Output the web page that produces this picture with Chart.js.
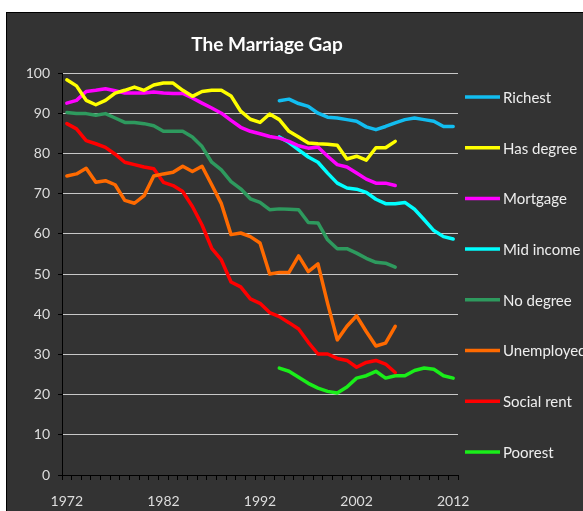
<!DOCTYPE html>
<html><head><meta charset="utf-8">
<script src="https://cdn.jsdelivr.net/npm/chart.js@4.4.0/dist/chart.umd.min.js"></script>
<style>html,body{margin:0;padding:0;background:#fff;}canvas{display:block;}</style>
</head><body>
<canvas id="c" width="583" height="511"></canvas>
<script>
const chartTitle = 'The Marriage Gap';
const years = [1972,1973,1974,1975,1976,1977,1978,1979,1980,1981,1982,1983,1984,1985,1986,1987,1988,1989,1990,1991,1992,1993,1994,1995,1996,1997,1998,1999,2000,2001,2002,2003,2004,2005,2006,2007,2008,2009,2010,2011,2012];
const labeledYears = [1972,1982,1992,2002,2012];
const yTicks = [0,10,20,30,40,50,60,70,80,90,100];
const seriesNames = ['Richest','Has degree','Mortgage','Mid income','No degree','Unemployed','Social rent','Poorest'];
const seriesColors = ['#12bdf0','#ffff00','#ff00ff','#00ffff','#2e9a5e','#ff6a00','#ff0000','#1aee1a'];
// 1994-2012
const richest   = [93.1,93.5,92.4,91.7,90.0,89.0,88.8,88.4,88.0,86.6,85.9,86.7,87.6,88.4,88.8,88.4,88.0,86.7,86.7];
const midIncome = [84.1,82.7,80.9,79.1,77.8,75.1,72.6,71.4,71.1,70.3,68.6,67.5,67.5,67.8,66.1,63.5,60.8,59.3,58.7];
const poorest   = [26.6,25.8,24.3,22.8,21.6,20.8,20.4,21.9,24.1,24.7,25.8,24.1,24.7,24.7,26.0,26.6,26.3,24.7,24.1];
// 1972-2006
const hasDegree = [98.3,96.8,93.2,92.1,93.2,95.0,95.7,96.5,95.7,97.0,97.5,97.5,95.7,94.2,95.4,95.7,95.7,94.3,90.5,88.5,87.7,89.8,88.4,85.5,84.1,82.6,82.4,82.3,82.0,78.6,79.3,78.3,81.4,81.4,83.0];
const mortgage  = [92.5,93.2,95.4,95.7,96.1,95.6,95.0,95.0,95.0,95.3,95.0,94.9,94.9,93.8,92.5,91.3,90.0,88.2,86.5,85.5,84.9,84.2,83.8,83.0,81.9,81.3,81.6,79.3,77.2,76.6,75.1,73.6,72.6,72.6,72.0];
const noDegree  = [90.2,89.9,89.9,89.5,89.9,88.8,87.7,87.7,87.4,86.9,85.5,85.5,85.5,84.1,81.7,77.8,75.9,73.0,71.2,68.7,67.8,66.0,66.2,66.1,66.0,62.8,62.7,58.5,56.3,56.3,55.2,53.9,52.9,52.7,51.7];
const unemployed= [74.4,74.9,76.3,72.8,73.2,72.2,68.3,67.6,69.5,74.4,74.9,75.3,76.8,75.5,76.8,72.2,67.5,59.8,60.2,59.3,57.7,50.0,50.4,50.4,54.5,50.6,52.5,42.7,33.6,37.0,39.6,35.7,32.1,32.8,37.0];
const socialRent= [87.4,86.1,83.2,82.4,81.5,79.8,77.8,77.2,76.6,76.2,72.8,72.0,70.5,66.8,62.2,56.4,53.5,48.0,46.8,43.8,42.7,40.4,39.4,37.9,36.3,33.0,30.1,30.1,29.0,28.5,26.8,28.0,28.5,27.6,25.5];

function placeSeries(values, startYear){
  return years.map(y => { const k = y - startYear; return (k >= 0 && k < values.length) ? values[k] : null; });
}
const seriesData = [
  placeSeries(richest,1994), placeSeries(hasDegree,1972), placeSeries(mortgage,1972), placeSeries(midIncome,1994),
  placeSeries(noDegree,1972), placeSeries(unemployed,1972), placeSeries(socialRent,1972), placeSeries(poorest,1994)
];

const FONT = 'Lato, "Open Sans", sans-serif';

const bgPlugin = {
  id:'bg',
  beforeDraw(chart){
    const ctx = chart.ctx; ctx.save();
    ctx.fillStyle = '#ffffff'; ctx.fillRect(0,0,chart.width,chart.height);
    ctx.fillStyle = '#333333'; ctx.fillRect(6,12,chart.width-6,chart.height-12);
    ctx.strokeStyle = '#000'; ctx.lineWidth = 1; ctx.strokeRect(6.5,12.5,chart.width+5,chart.height+5);
    ctx.restore();
  }
};
const decorPlugin = {
  id:'decor',
  afterDraw(chart){
    const ctx = chart.ctx; ctx.save();
    ctx.fillStyle = '#ffffff'; ctx.font = 'bold 19px ' + FONT;
    ctx.textAlign = 'center'; ctx.textBaseline = 'middle';
    ctx.fillText(chartTitle, 267, 45);
    ctx.font = '15px ' + FONT; ctx.textAlign = 'left';
    chart.data.datasets.forEach((ds,i) => {
      const y = 97 + i*50.7;
      ctx.strokeStyle = ds.borderColor; ctx.lineWidth = 3.5;
      ctx.beginPath(); ctx.moveTo(465,y); ctx.lineTo(500,y); ctx.stroke();
      ctx.fillStyle = '#eeeeee'; ctx.fillText(ds.label, 503, y+1);
    });
    ctx.restore();
  }
};

new Chart(document.getElementById('c'), {
  type:'line',
  data:{
    labels: years,
    datasets: seriesNames.map((n,i) => ({
      label:n, data:seriesData[i], borderColor:seriesColors[i], backgroundColor:seriesColors[i],
      borderWidth:3.5, pointRadius:0, tension:0, fill:false, spanGaps:false,
      borderCapStyle:'round', borderJoinStyle:'round'
    }))
  },
  options:{
    responsive:false, animation:false, devicePixelRatio:1,
    layout:{padding:{top:73, right:125, bottom:0, left:0}},
    plugins:{legend:{display:false}, title:{display:false}, tooltip:{enabled:false}},
    scales:{
      x:{
        offset:true,
        grid:{display:true, drawOnChartArea:false, drawTicks:true, tickLength:5, tickColor:'#000', offset:true},
        border:{color:'#000', width:1},
        ticks:{autoSkip:false, maxRotation:0, minRotation:0, color:'#dddddd', font:{family:FONT, size:14}, padding:13,
          callback(v,i){ return labeledYears.includes(years[i]) ? String(years[i]) : ''; }},
        afterFit(s){ s.height = 36; }
      },
      y:{
        min:0, max:100,
        afterBuildTicks(s){ s.ticks = yTicks.map(v => ({value:v})); },
        ticks:{color:'#dddddd', font:{family:FONT, size:14}, padding:8},
        grid:{color:'#c8c8c8', lineWidth:1, tickColor:'#000', tickLength:4},
        border:{color:'#000', width:1},
        afterFit(s){ s.width = 62; }
      }
    }
  },
  plugins:[bgPlugin, decorPlugin]
});
</script>
</body></html>
